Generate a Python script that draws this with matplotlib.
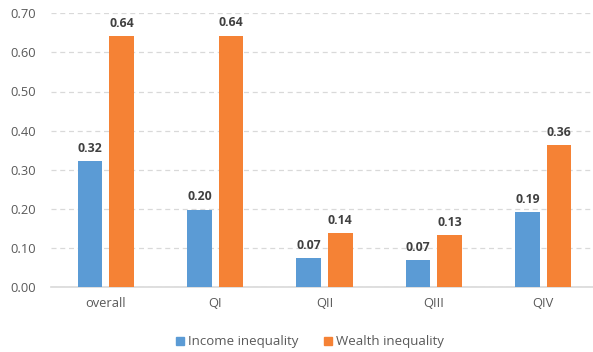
import numpy as np
import matplotlib.pyplot as plt
from matplotlib.patches import Patch

plt.rcParams['font.family'] = ['Open Sans', 'DejaVu Sans']

categories = ["overall", "QI", "QII", "QIII", "QIV"]
income = [0.322, 0.198, 0.073, 0.069, 0.192]
wealth = [0.642, 0.643, 0.138, 0.133, 0.363]
yticks = [0.0, 0.1, 0.2, 0.3, 0.4, 0.5, 0.6, 0.7]

blue = "#5b9bd5"
orange = "#f58235"
grid_col = "#d9d9d9"
text_col = "#595959"

fig = plt.figure(figsize=(5.93, 3.52), dpi=100)
ax = fig.add_axes([51 / 593, 65 / 352, 547 / 593, 273.7 / 352])

x = np.arange(len(categories))
w = 0.224
off = 0.144
b1 = ax.bar(x - off, income, w, color=blue, zorder=3)
b2 = ax.bar(x + off, wealth, w, color=orange, zorder=3)

for bars, vals in ((b1, income), (b2, wealth)):
    for rect, v in zip(bars, vals):
        ax.annotate(f"{v:.2f}", (rect.get_x() + rect.get_width() / 2, v),
                    xytext=(0, 4.5), textcoords="offset points",
                    ha="center", va="bottom", fontsize=8.8,
                    fontweight="bold", color="#404040")

ax.set_xlim(-0.5, len(categories) - 0.5)
ax.set_ylim(0, 0.7)
ax.set_yticks(yticks)
ax.set_yticklabels([f"{t:.2f}" for t in yticks])
ax.set_xticks(x)
ax.set_xticklabels(categories)
ax.tick_params(axis="both", length=0, labelsize=9.3, colors=text_col)
ax.tick_params(axis="y", pad=11)
ax.tick_params(axis="x", pad=7)

ax.yaxis.grid(True, color=grid_col, linestyle=(0, (4, 3)), linewidth=0.9, zorder=0)
for side in ("top", "right", "left"):
    ax.spines[side].set_visible(False)
ax.spines["bottom"].set_color(grid_col)
ax.spines["bottom"].set_linewidth(1.2)

handles = [Patch(color=blue, label="Income inequality"),
           Patch(color=orange, label="Wealth inequality")]
fig.legend(handles=handles, loc="center", bbox_to_anchor=(310 / 593, 1 - 342 / 352),
           ncol=2, frameon=False, fontsize=9.5, labelcolor=text_col,
           handlelength=0.6, handleheight=0.6, handletextpad=0.3, columnspacing=1.9)

fig.savefig("out.png", dpi=100)
